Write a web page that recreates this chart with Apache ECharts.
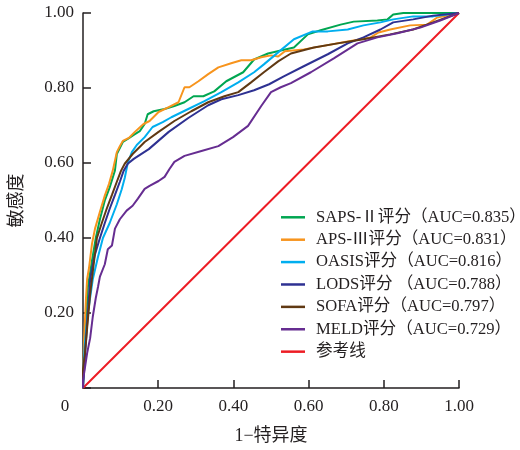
<!DOCTYPE html>
<html>
<head>
<meta charset="utf-8">
<script src="https://cdn.jsdelivr.net/npm/echarts@6/dist/echarts.min.js"></script>
<style>html,body{margin:0;padding:0;background:#fff}#c{width:520px;height:450px}</style>
</head>
<body>
<div id="c"></div>
<script>
// ---- data (1 - specificity, sensitivity) ----
const seriesNames = [
  'SAPS-Ⅱ评分（AUC=0.835）',
  'APS-Ⅲ评分（AUC=0.831）',
  'OASIS评分（AUC=0.816）',
  'LODS评分 （AUC=0.788）',
  'SOFA评分（AUC=0.797）',
  'MELD评分（AUC=0.729）',
  '参考线'
];
const sapsII = [[0,0],[0.005,0.12],[0.013,0.27],[0.024,0.34],[0.034,0.40],[0.045,0.45],[0.058,0.50],[0.071,0.535],[0.085,0.58],[0.090,0.624],[0.106,0.656],[0.119,0.664],[0.135,0.675],[0.151,0.685],[0.164,0.704],[0.172,0.730],[0.188,0.738],[0.217,0.744],[0.243,0.752],[0.270,0.762],[0.294,0.778],[0.320,0.778],[0.349,0.791],[0.381,0.818],[0.426,0.842],[0.455,0.876],[0.492,0.892],[0.526,0.900],[0.561,0.908],[0.598,0.943],[0.632,0.954],[0.685,0.969],[0.720,0.977],[0.783,0.980],[0.810,0.983],[0.825,0.996],[0.852,1],[1,1]];
const apsIII = [[0,0],[0.003,0.133],[0.008,0.24],[0.011,0.29],[0.016,0.32],[0.024,0.385],[0.032,0.425],[0.045,0.47],[0.058,0.513],[0.069,0.544],[0.079,0.579],[0.090,0.629],[0.098,0.645],[0.106,0.659],[0.122,0.667],[0.138,0.683],[0.161,0.704],[0.177,0.712],[0.201,0.736],[0.228,0.749],[0.254,0.762],[0.270,0.802],[0.283,0.802],[0.307,0.818],[0.333,0.837],[0.360,0.855],[0.394,0.866],[0.421,0.874],[0.447,0.874],[0.474,0.882],[0.500,0.887],[0.519,0.884],[0.537,0.898],[0.587,0.903],[0.632,0.911],[0.693,0.922],[0.765,0.935],[0.786,0.948],[0.817,0.956],[0.870,0.967],[0.915,0.969],[0.942,0.988],[0.968,0.993],[1,1]];
const oasis = [[0,0],[0.002,0.07],[0.005,0.12],[0.013,0.20],[0.026,0.29],[0.040,0.35],[0.053,0.40],[0.071,0.44],[0.090,0.49],[0.103,0.53],[0.111,0.56],[0.119,0.60],[0.130,0.629],[0.143,0.648],[0.164,0.669],[0.185,0.696],[0.212,0.709],[0.235,0.722],[0.280,0.744],[0.323,0.765],[0.368,0.789],[0.413,0.815],[0.455,0.842],[0.481,0.863],[0.519,0.895],[0.561,0.930],[0.611,0.951],[0.651,0.951],[0.704,0.956],[0.746,0.967],[0.791,0.975],[0.825,0.983],[0.878,0.991],[0.931,0.991],[0.968,0.996],[1,1]];
const lods = [[0,0],[0.005,0.08],[0.011,0.17],[0.019,0.29],[0.030,0.35],[0.045,0.40],[0.058,0.44],[0.071,0.478],[0.085,0.515],[0.098,0.55],[0.108,0.579],[0.119,0.598],[0.135,0.611],[0.175,0.637],[0.228,0.683],[0.280,0.720],[0.333,0.754],[0.368,0.770],[0.413,0.781],[0.455,0.794],[0.495,0.810],[0.534,0.831],[0.587,0.858],[0.651,0.890],[0.704,0.919],[0.746,0.935],[0.791,0.956],[0.825,0.975],[0.878,0.983],[0.931,0.993],[1,1]];
const sofa = [[0,0],[0,0.05],[0.005,0.09],[0.011,0.16],[0.019,0.25],[0.026,0.31],[0.037,0.40],[0.050,0.44],[0.063,0.478],[0.077,0.515],[0.090,0.55],[0.101,0.579],[0.111,0.598],[0.132,0.624],[0.164,0.656],[0.201,0.683],[0.243,0.712],[0.288,0.738],[0.333,0.762],[0.376,0.778],[0.413,0.789],[0.447,0.815],[0.481,0.842],[0.519,0.871],[0.540,0.884],[0.553,0.892],[0.614,0.908],[0.677,0.919],[0.746,0.930],[0.817,0.943],[0.878,0.956],[0.931,0.975],[1,1]];
const meld = [[0,0],[0,0.02],[0.005,0.053],[0.011,0.093],[0.019,0.133],[0.026,0.19],[0.034,0.24],[0.040,0.27],[0.045,0.297],[0.058,0.33],[0.066,0.37],[0.077,0.38],[0.085,0.425],[0.098,0.45],[0.116,0.473],[0.132,0.486],[0.146,0.505],[0.164,0.531],[0.177,0.539],[0.201,0.552],[0.217,0.563],[0.230,0.584],[0.243,0.603],[0.270,0.619],[0.315,0.632],[0.360,0.645],[0.399,0.669],[0.439,0.699],[0.474,0.752],[0.500,0.789],[0.526,0.802],[0.553,0.813],[0.606,0.842],[0.667,0.879],[0.730,0.919],[0.783,0.935],[0.836,0.946],[0.897,0.961],[0.950,0.980],[1,1]];
const reference = [[0,0],[1,1]];
const xAxisName = '1−特异度';
const yAxisName = '敏感度';

const colors = ['#00a651','#f7941d','#00aeef','#2e3192','#603913','#662d91','#ed1c24'];
const allData = [sapsII, apsIII, oasis, lods, sofa, meld, reference];
const FONT = "'Liberation Serif', 'Noto Sans CJK SC', serif";
const INK = '#231f20';

const chart = echarts.init(document.getElementById('c'), null, {renderer: 'canvas'});
chart.setOption({
  animation: false,
  color: colors,
  textStyle: {fontFamily: FONT, color: INK},
  grid: {left: 81, right: 61, top: 13, bottom: 60},
  legend: {
    orient: 'vertical',
    left: 276, top: 204,
    icon: 'rect',
    itemWidth: 24, itemHeight: 2.5, itemGap: 5.8,
    data: seriesNames,
    textStyle: {fontFamily: FONT, fontSize: 16.6, color: INK, lineHeight: 16, padding: [0,0,0,6]}
  },
  xAxis: {
    type: 'value', min: 0, max: 1, interval: 0.2,
    name: xAxisName, nameLocation: 'middle', nameGap: 39,
    nameTextStyle: {fontFamily: FONT, fontSize: 18, color: INK},
    axisLine: {show: true, lineStyle: {color: INK, width: 1.5}},
    axisTick: {show: true, inside: true, length: 8, lineStyle: {color: INK, width: 1.5}},
    splitLine: {show: false},
    axisLabel: {
      margin: 10, fontSize: 17, color: INK, fontFamily: FONT,
      formatter: v => v === 0 ? '{o|0}' : v.toFixed(2),
      rich: {o: {fontSize: 17, fontFamily: FONT, color: INK, padding: [0, 36, 0, 0]}}
    }
  },
  yAxis: {
    type: 'value', min: 0, max: 1, interval: 0.2,
    name: yAxisName, nameLocation: 'middle', nameGap: 57, nameRotate: 90,
    nameTextStyle: {fontFamily: FONT, fontSize: 18, color: INK},
    axisLine: {show: true, lineStyle: {color: INK, width: 1.5}},
    axisTick: {show: true, inside: true, length: 8, lineStyle: {color: INK, width: 1.5}},
    splitLine: {show: false},
    axisLabel: {
      margin: 9, fontSize: 17, color: INK, fontFamily: FONT,
      formatter: v => v === 0 ? '' : v.toFixed(2)
    }
  },
  series: allData.map((d, i) => ({
    name: seriesNames[i],
    type: 'line',
    data: d,
    showSymbol: false,
    symbol: 'none',
    lineStyle: {width: 2, color: colors[i]},
    itemStyle: {color: colors[i]},
    z: i === 6 ? 1 : 2
  }))
});
</script>
</body>
</html>
